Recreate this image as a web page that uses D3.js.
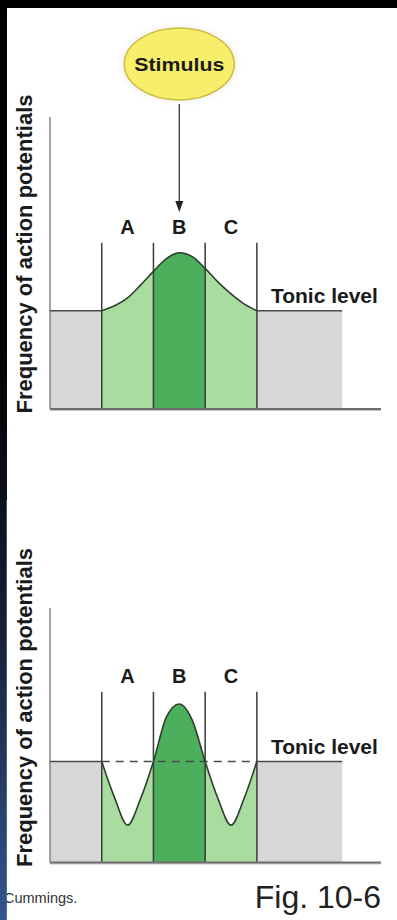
<!DOCTYPE html>
<html>
<head>
<meta charset="utf-8">
<script src="https://cdn.jsdelivr.net/npm/d3@7"></script>
<style>
  html, body { margin: 0; padding: 0; background: #fff; }
  svg { display: block; }
  text { font-family: "Liberation Sans", Arial, Helvetica, sans-serif; }
</style>
</head>
<body>
<script>
// Receptive-field response: firing frequency along the skin, tonic level = 10
const regionNames = ["A", "B", "C"];
const regionEdges = [1, 2, 3, 4];          // boundaries of A | B | C
const tonicLevel = 10;
const baselineExtent = [[0, 1], [4, 5.65]]; // unstimulated stretches at tonic rate
const axisExtentX = 6.4;
const dividerHeight = 16.9;

const positions = [1, 1.25, 1.5, 1.75, 2, 2.25, 2.5, 2.75, 3, 3.25, 3.5, 3.75, 4];
// no lateral inhibition: broad hump
const broadResponse = [10, 10.5, 11.3, 12.6, 14.0, 15.3, 15.9, 15.5, 14.3, 12.9, 11.7, 10.7, 10];
// with lateral inhibition: sharpened center, suppressed flanks
const sharpResponse = [10, 6.4, 3.7, 6.3, 10, 14.4, 15.7, 14.1, 10, 6.3, 3.7, 6.3, 10];

const axisLabel = "Frequency of action potentials";
const tonicLabel = "Tonic level";
const stimulusLabel = "Stimulus";
const creditLabel = "Cummings.";
const figureLabel = "Fig. 10-6";

const W = 397, H = 920;
const svg = d3.select("body").append("svg").attr("width", W).attr("height", H);
const defs = svg.append("defs");

const x = d3.scaleLinear().domain([0, axisExtentX]).range([50, 381]);

const colors = { A: "#a9dc9f", B: "#4caf5c", C: "#a9dc9f", gray: "#d7d7d7" };

function panel(id, values, yDomainMax, yRange, dashed) {
  const y = d3.scaleLinear().domain([0, yDomainMax]).range(yRange);
  const g = svg.append("g");
  const pts = positions.map((p, i) => [p, values[i]]);

  // clip each region
  regionNames.forEach((r, i) => {
    defs.append("clipPath").attr("id", `${id}-${r}`)
      .append("rect")
      .attr("x", x(regionEdges[i]))
      .attr("y", 0)
      .attr("width", x(regionEdges[i + 1]) - x(regionEdges[i]))
      .attr("height", H);
  });

  // gray baseline blocks
  baselineExtent.forEach(([a, b]) => {
    g.append("rect")
      .attr("x", x(a)).attr("y", y(tonicLevel))
      .attr("width", x(b) - x(a)).attr("height", y(0) - y(tonicLevel))
      .attr("fill", colors.gray);
  });

  const area = d3.area().x(d => x(d[0])).y0(y(0)).y1(d => y(d[1])).curve(d3.curveMonotoneX);
  const line = d3.line().x(d => x(d[0])).y(d => y(d[1])).curve(d3.curveMonotoneX);

  regionNames.forEach(r => {
    g.append("path").attr("d", area(pts))
      .attr("fill", colors[r])
      .attr("clip-path", `url(#${id}-${r})`);
  });

  // y axis
  g.append("line")
    .attr("x1", x(0)).attr("x2", x(0))
    .attr("y1", y(yDomainMax)).attr("y2", y(0))
    .attr("stroke", "#8d8d8d").attr("stroke-width", 1.6);

  // region dividers
  regionEdges.forEach(e => {
    g.append("line")
      .attr("x1", x(e)).attr("x2", x(e))
      .attr("y1", y(dividerHeight)).attr("y2", y(0))
      .attr("stroke", "#3a3a3a").attr("stroke-width", 1.5);
  });

  // tonic level lines
  baselineExtent.forEach(([a, b]) => {
    g.append("line")
      .attr("x1", x(a)).attr("x2", x(b))
      .attr("y1", y(tonicLevel)).attr("y2", y(tonicLevel))
      .attr("stroke", "#4a4a4a").attr("stroke-width", 1.6);
  });
  if (dashed) {
    g.append("line")
      .attr("x1", x(regionEdges[0])).attr("x2", x(regionEdges[3]))
      .attr("y1", y(tonicLevel)).attr("y2", y(tonicLevel))
      .attr("stroke", "#4a4a4a").attr("stroke-width", 1.5)
      .attr("stroke-dasharray", "8,6");
  }

  // response curve
  g.append("path").attr("d", line(pts))
    .attr("fill", "none").attr("stroke", "#2f3f2f").attr("stroke-width", 1.6);

  // x axis
  g.append("line")
    .attr("x1", x(0)).attr("x2", x(axisExtentX))
    .attr("y1", y(0) + 1).attr("y2", y(0) + 1)
    .attr("stroke", "#c8c8c8").attr("stroke-width", 2);
  g.append("line")
    .attr("x1", x(0)).attr("x2", x(axisExtentX))
    .attr("y1", y(0)).attr("y2", y(0))
    .attr("stroke", "#6e6e6e").attr("stroke-width", 2);

  // region letters
  regionNames.forEach((r, i) => {
    g.append("text")
      .attr("x", x((regionEdges[i] + regionEdges[i + 1]) / 2))
      .attr("y", y(dividerHeight) - 9)
      .attr("text-anchor", "middle")
      .attr("font-size", 20).attr("font-weight", "bold").attr("fill", "#1a1a1a")
      .text(r);
  });

  g.append("text")
    .attr("x", x(regionEdges[3]) + 14)
    .attr("y", y(tonicLevel) - 8)
    .attr("font-size", 21).attr("font-weight", "bold").attr("fill", "#1a1a1a")
    .text(tonicLabel);

  // y axis title, centred a fixed distance above the baseline
  const midY = y(0) - 155;
  g.append("text")
    .attr("transform", `translate(32,${midY}) rotate(-90)`)
    .attr("text-anchor", "middle")
    .attr("font-size", 22).attr("font-weight", "bold").attr("fill", "#1a1a1a")
    .text(axisLabel);
}

panel("p1", broadResponse, 29.7, [409, 117], false);
panel("p2", sharpResponse, 25.2, [862.5, 608], true);

// stimulus bubble and arrow
const cx = x(2.5);
const glow = defs.append("filter").attr("id", "glow").attr("x", "-30%").attr("y", "-30%").attr("width", "160%").attr("height", "160%");
glow.append("feGaussianBlur").attr("stdDeviation", 3);
svg.append("ellipse").attr("cx", cx).attr("cy", 64).attr("rx", 58).attr("ry", 38)
  .attr("fill", "#eeeeee").attr("filter", "url(#glow)").attr("opacity", 0.8);
svg.append("ellipse").attr("cx", cx).attr("cy", 64).attr("rx", 55).attr("ry", 36)
  .attr("fill", "#f7ef6c").attr("stroke", "#cbbd3e").attr("stroke-width", 1.5);
svg.append("text").attr("x", cx).attr("y", 71)
  .attr("text-anchor", "middle")
  .attr("font-size", 19).attr("font-weight", "bold").attr("fill", "#1a1a1a")
  .attr("textLength", 90).attr("lengthAdjust", "spacingAndGlyphs")
  .text(stimulusLabel);

const tipY = 212;
svg.append("line").attr("x1", cx).attr("x2", cx).attr("y1", 104).attr("y2", tipY - 8)
  .attr("stroke", "#333").attr("stroke-width", 1.3);
svg.append("path")
  .attr("d", `M${cx - 4},${tipY - 11} L${cx + 4},${tipY - 11} L${cx},${tipY} Z`)
  .attr("fill", "#222");

// footer
svg.append("text").attr("x", 4).attr("y", 903)
  .attr("font-size", 14.5).attr("fill", "#333").text(creditLabel);
svg.append("text").attr("x", 381).attr("y", 908)
  .attr("text-anchor", "end")
  .attr("font-size", 32).attr("fill", "#222").text(figureLabel);

// dark frame on the top and left edges
const grad = defs.append("linearGradient").attr("id", "edge")
  .attr("x1", 0).attr("y1", 0).attr("x2", 0).attr("y2", 1);
[[0, "#000000"], [0.45, "#04060a"], [0.7, "#17223a"], [1, "#34568f"]].forEach(([o, c]) =>
  grad.append("stop").attr("offset", o).attr("stop-color", c));
svg.append("rect").attr("x", 0).attr("y", 0).attr("width", 7).attr("height", H).attr("fill", "url(#edge)");
svg.append("line").attr("x1", 6.5).attr("x2", 6.5).attr("y1", 500).attr("y2", H)
  .attr("stroke", "#5d7fb4").attr("stroke-width", 1).attr("opacity", 0.6);
svg.append("rect").attr("x", 0).attr("y", 0).attr("width", W).attr("height", 8).attr("fill", "#000");
</script>
</body>
</html>
